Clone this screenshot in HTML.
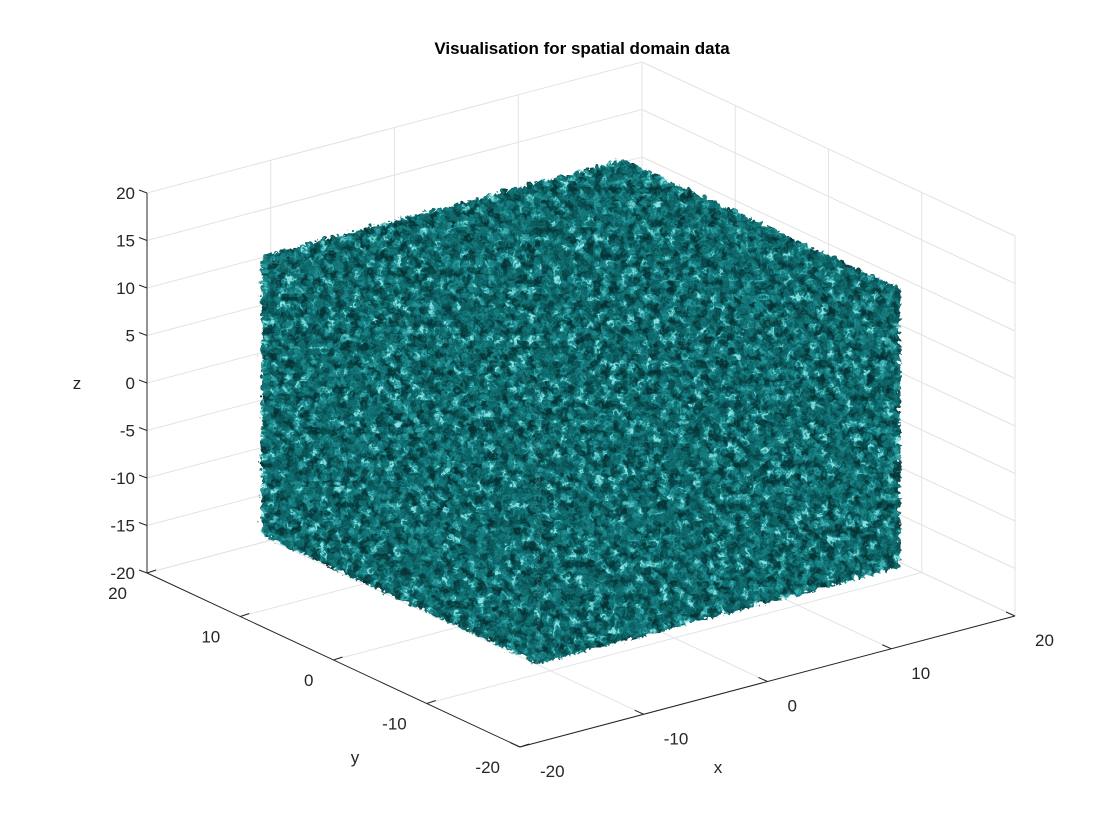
<!DOCTYPE html>
<html><head><meta charset="utf-8"><style>
html,body{margin:0;padding:0;background:#fff;}
svg{display:block;font-family:"Liberation Sans",Arial,sans-serif;}
</style></head><body>
<svg id="chart" width="1120" height="840" viewBox="0 0 1120 840" xmlns="http://www.w3.org/2000/svg">
<defs>
<filter id="tex" x="0" y="0" width="100%" height="100%" filterUnits="userSpaceOnUse" color-interpolation-filters="sRGB">
<feTurbulence type="fractalNoise" baseFrequency="0.12" numOctaves="3" seed="7" result="n"/>
<feColorMatrix in="n" type="matrix" values="1.9 0 0 0 -0.45  1.9 0 0 0 -0.45  1.9 0 0 0 -0.45  0 0 0 0 1" result="g"/>
<feComponentTransfer in="g">
<feFuncR type="table" tableValues="0.02 0.03 0.04 0.05 0.07 0.1 0.2 0.55"/>
<feFuncG type="table" tableValues="0.2 0.25 0.31 0.38 0.45 0.52 0.65 0.88"/>
<feFuncB type="table" tableValues="0.21 0.26 0.32 0.39 0.46 0.53 0.66 0.88"/>
</feComponentTransfer>
</filter>
<filter id="rough" x="-5%" y="-5%" width="110%" height="110%" color-interpolation-filters="sRGB">
<feTurbulence type="turbulence" baseFrequency="0.15" numOctaves="2" seed="3" result="d"/>
<feDisplacementMap in="SourceGraphic" in2="d" scale="9" xChannelSelector="R" yChannelSelector="G"/>
</filter>
</defs>
<text x="582" y="54" text-anchor="middle" font-size="17" font-weight="bold" fill="#000">Visualisation for spatial domain data</text>
<g id="grid"></g>
<g id="cube" filter="url(#rough)"></g>
<g id="axes"></g>
</svg>
<script>
const xTicks = [-20, -10, 0, 10, 20];
const yTicks = [-20, -10, 0, 10, 20];
const zTicks = [-20, -15, -10, -5, 0, 5, 10, 15, 20];
const xRange = [-20, 20];
const yRange = [-20, 20];
const zRange = [-20, 20];
const cubeX = [-15, 14.3];
const cubeY = [-15, 14.6];
const cubeZ = [-15, 14.4];

const NS = "http://www.w3.org/2000/svg";
function P(x, y, z) {
  const fx = (x - xRange[0]) / (xRange[1] - xRange[0]);
  const fy = (y - yRange[0]) / (yRange[1] - yRange[0]);
  const fz = (z - zRange[0]) / (zRange[1] - zRange[0]);
  return [520 + fx * 495 - fy * 373, 747 - fx * 131 - fy * 174 - fz * 380];
}
function mk(tag, attrs, parent) {
  const e = document.createElementNS(NS, tag);
  for (const k in attrs) e.setAttribute(k, attrs[k]);
  parent.appendChild(e);
  return e;
}
function line(a, b, col, w, parent, name) {
  const e = mk('line', {x1: a[0], y1: a[1], x2: b[0], y2: b[1], stroke: col, 'stroke-width': w}, parent);
  
  
  return e;
}
const grid = document.getElementById('grid');
const GC = '#e3e3e3';
const x0 = xRange[0], x1 = xRange[1], y0 = yRange[0], y1 = yRange[1], z0 = zRange[0], z1 = zRange[1];
xTicks.forEach(t => line(P(t, y1, z0), P(t, y1, z1), GC, 1, grid, 'grid-line-x'));
zTicks.forEach(t => line(P(x0, y1, t), P(x1, y1, t), GC, 1, grid, 'grid-line-z'));
yTicks.forEach(t => line(P(x1, t, z0), P(x1, t, z1), GC, 1, grid, 'grid-line-y'));
zTicks.forEach(t => line(P(x1, y0, t), P(x1, y1, t), GC, 1, grid, 'grid-line-z'));
xTicks.forEach(t => line(P(t, y0, z0), P(t, y1, z0), GC, 1, grid, 'grid-line-x'));
yTicks.forEach(t => line(P(x0, t, z0), P(x1, t, z0), GC, 1, grid, 'grid-line-y'));

const cube = document.getElementById('cube');
const [a0, a1] = cubeX, [b0, b1] = cubeY, [c0, c1] = cubeZ;
const faces = [
  {name: 'cube-face-left', pts: [P(a0, b0, c0), P(a0, b1, c0), P(a0, b1, c1), P(a0, b0, c1)]},
  {name: 'cube-face-right', pts: [P(a0, b0, c0), P(a1, b0, c0), P(a1, b0, c1), P(a0, b0, c1)]},
  {name: 'cube-face-top', pts: [P(a0, b0, c1), P(a1, b0, c1), P(a1, b1, c1), P(a0, b1, c1)]}
];
faces.forEach((f, i) => {
  const cp = mk('clipPath', {id: 'cp' + i}, cube);
  mk('polygon', {points: f.pts.map(p => p.join(',')).join(' ')}, cp);
  const r = mk('rect', {x: 0, y: 0, width: 1120, height: 840, filter: 'url(#tex)', 'clip-path': 'url(#cp' + i + ')'}, cube);
  
  
});

const axes = document.getElementById('axes');
const AC = '#262626';
line(P(x0, y1, z0), P(x0, y1, z1), AC, 1, axes, 'z-axis-line');
line(P(x0, y1, z0), P(x0, y0, z0), AC, 1, axes, 'y-axis-line');
line(P(x0, y0, z0), P(x1, y0, z0), AC, 1, axes, 'x-axis-line');
function txt(s, x, y, anchor, name) {
  const e = mk('text', {x: x, y: y, 'text-anchor': anchor, 'font-size': 17, fill: '#262626'}, axes);
  e.textContent = s;
  
  
}
zTicks.forEach(t => {
  const p = P(x0, y1, t);
  line(p, [p[0] - 8, p[1] - 3], AC, 1, axes, 'z-tick');
  txt(String(t), p[0] - 12, p[1] + 6, 'end', 'z-tick-label');
});
yTicks.forEach(t => {
  const p = P(x0, t, z0);
  line(p, [p[0] + 9, p[1] - 3], AC, 1, axes, 'y-tick');
  txt(String(t), p[0] - 20, p[1] + 26, 'end', 'y-tick-label');
});
xTicks.forEach(t => {
  const p = P(t, y0, z0);
  line(p, [p[0] - 9, p[1] - 4], AC, 1, axes, 'x-tick');
  txt(String(t), p[0] + 20, p[1] + 30, 'start', 'x-tick-label');
});
txt('z', 77, 389, 'middle', 'z-axis-title');
txt('y', 355, 763, 'middle', 'y-axis-title');
txt('x', 718, 773, 'middle', 'x-axis-title');
</script>
</body></html>
